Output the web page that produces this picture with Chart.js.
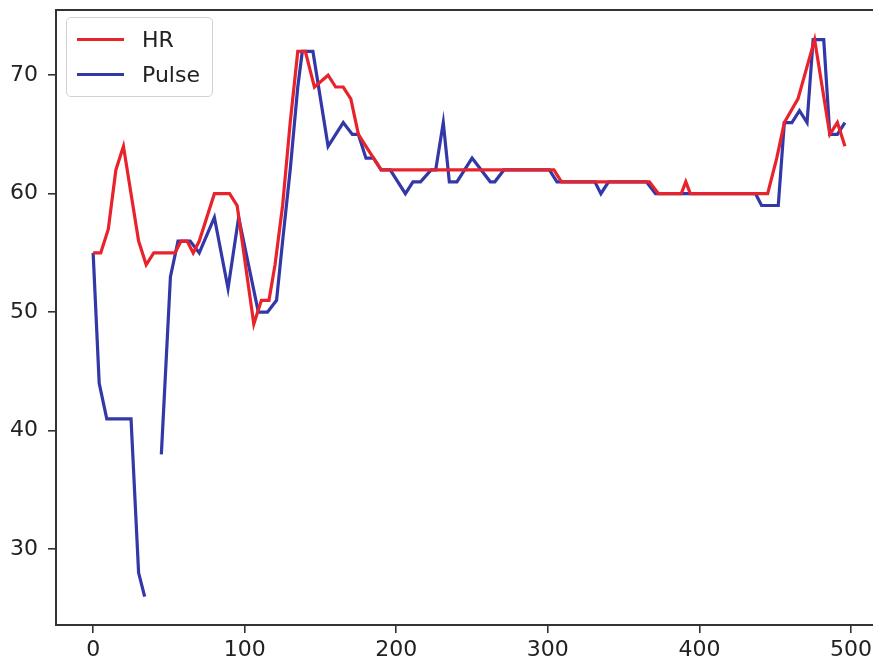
<!DOCTYPE html>
<html lang="en">

<head>
    <meta charset="UTF-8">
    <script src="https://cdn.jsdelivr.net/npm/chart.js"></script>
    <title>HR vs Pulse</title>
    <style>
        body { margin: 0; background: #fff; overflow: hidden; }
        #wrap { position: relative; width: 873px; height: 666px; }
        #legend {
            position: absolute; left: 66px; top: 17px;
            padding: 4px 12px 4px 10px;
            border: 1px solid #d2d2d2; border-radius: 5px;
            background: rgba(255, 255, 255, 0.8);
            font-family: "DejaVu Sans", sans-serif; font-size: 22px; color: #222;
        }
        #legend .row { display: flex; align-items: center; height: 35px; }
        #legend .swatch { width: 47px; height: 3px; margin-right: 18px; }
    </style>
</head>

<body>
    <div id="wrap">
        <canvas id="hrChart" width="873" height="666"></canvas>
        <div id="legend"></div>
    </div>

    <script>
        // HR series (x = sample index, y = bpm)
        const hrX = [0, 5, 10, 15, 20, 25, 30, 35, 40, 54, 58, 62, 66, 70, 80, 90, 95, 106, 111, 116, 120, 125, 130, 135, 140, 146, 155, 160, 165, 170, 175, 180, 185, 190, 304, 309, 367, 373, 388, 391, 394, 445, 451, 456, 465, 476, 486, 491, 496];
        const hrY = [55, 55, 57, 62, 64, 60, 56, 54, 55, 55, 56, 56, 55, 56, 60, 60, 59, 49, 51, 51, 54, 59, 66, 72, 72, 69, 70, 69, 69, 68, 65, 64, 63, 62, 62, 61, 61, 60, 60, 61, 60, 60, 63, 66, 68, 73, 65, 66, 64];

        // Pulse series (null = missing reading)
        const pulseX = [0, 4, 9, 25, 30, 34, 40, 45, 51, 56, 64, 70, 80, 89, 96, 109, 115, 121, 125, 130, 135, 138, 145, 155, 165, 171, 175, 180, 185, 190, 196, 206, 211, 216, 223, 226, 231, 235, 240, 250, 262, 265, 271, 301, 306, 331, 335, 340, 365, 371, 437, 441, 452, 456, 461, 466, 471, 475, 482, 486, 491, 496];
        const pulseY = [55, 44, 41, 41, 28, 26, null, 38, 53, 56, 56, 55, 58, 52, 58, 50, 50, 51, 56, 62, 69, 72, 72, 64, 66, 65, 65, 63, 63, 62, 62, 60, 61, 61, 62, 62, 66, 61, 61, 63, 61, 61, 62, 62, 61, 61, 60, 61, 61, 60, 60, 59, 59, 66, 66, 67, 66, 73, 73, 65, 65, 66];

        const xTicks = [0, 100, 200, 300, 400, 500];
        const yTicks = [30, 40, 50, 60, 70];

        const toPoints = (xs, ys) => xs.map((x, i) => ({ x: x, y: ys[i] }));

        const axisColor = '#333';
        const tickFont = { family: 'DejaVu Sans', size: 22 };

        // top spine (matplotlib style frame)
        const topSpine = {
            id: 'topSpine',
            afterDraw(chart) {
                const { ctx, chartArea } = chart;
                ctx.save();
                ctx.strokeStyle = axisColor;
                ctx.lineWidth = 2;
                ctx.beginPath();
                ctx.moveTo(chartArea.left - 1, chartArea.top);
                ctx.lineTo(chart.width, chartArea.top);
                ctx.stroke();
                ctx.restore();
            }
        };

        const ctx = document.getElementById('hrChart').getContext('2d');
        const chart = new Chart(ctx, {
            type: 'line',
            data: {
                datasets: [{
                    label: 'HR',
                    data: toPoints(hrX, hrY),
                    borderColor: '#e8232b',
                    borderWidth: 3.2,
                    pointRadius: 0,
                    tension: 0
                }, {
                    label: 'Pulse',
                    data: toPoints(pulseX, pulseY),
                    borderColor: '#3338a8',
                    borderWidth: 3.2,
                    pointRadius: 0,
                    tension: 0,
                    spanGaps: false
                }]
            },
            options: {
                responsive: false,
                animation: false,
                devicePixelRatio: 1,
                layout: { padding: { top: 10, right: 0, left: 0, bottom: 0 } },
                plugins: {
                    legend: { display: false },
                    tooltip: { enabled: false }
                },
                scales: {
                    x: {
                        type: 'linear',
                        min: -24.5,
                        max: 514.5,
                        afterFit: (scale) => {
                            scale.height = 41;
                            scale.paddingLeft = 0;
                            scale.paddingRight = 0;
                        },
                        afterBuildTicks: (scale) => { scale.ticks = xTicks.map(v => ({ value: v })); },
                        grid: { drawOnChartArea: false, tickLength: 8, color: axisColor, lineWidth: 1.6 },
                        border: { color: axisColor, width: 2 },
                        ticks: { font: tickFont, color: '#222', padding: 4, maxRotation: 0 }
                    },
                    y: {
                        min: 23.6,
                        max: 75.5,
                        afterFit: (scale) => {
                            scale.width = 56;
                            scale.paddingTop = 0;
                            scale.paddingBottom = 0;
                        },
                        afterBuildTicks: (scale) => { scale.ticks = yTicks.map(v => ({ value: v })); },
                        grid: { drawOnChartArea: false, tickLength: 8, color: axisColor, lineWidth: 1.6 },
                        border: { color: axisColor, width: 2 },
                        ticks: { font: tickFont, color: '#222', padding: 10 }
                    }
                }
            },
            plugins: [topSpine]
        });

        // HTML legend built from the datasets
        const legendEl = document.getElementById('legend');
        chart.data.datasets.forEach(ds => {
            const row = document.createElement('div');
            row.className = 'row';
            const sw = document.createElement('span');
            sw.className = 'swatch';
            sw.style.background = ds.borderColor;
            const txt = document.createElement('span');
            txt.textContent = ds.label;
            row.appendChild(sw);
            row.appendChild(txt);
            legendEl.appendChild(row);
        });
    </script>
</body>

</html>
